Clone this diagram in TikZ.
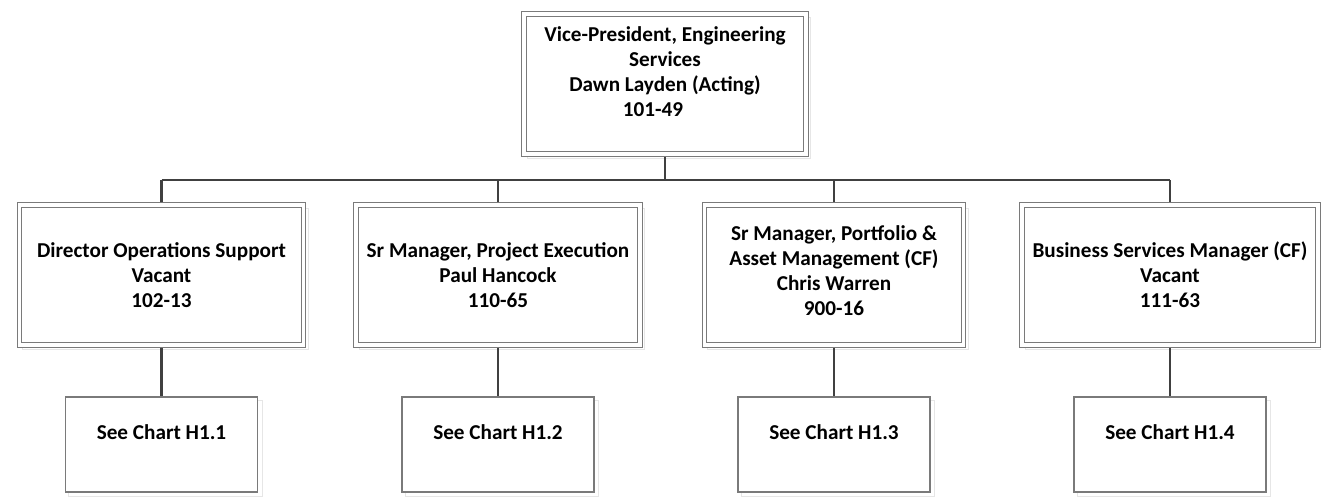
\documentclass[tikz,border=0pt]{standalone}
\usepackage{fontspec}
\setmainfont{Carlito}
\pgfdeclarelayer{bg}
\pgfsetlayers{bg,main}
\definecolor{boxline}{HTML}{7A7A7A}
\definecolor{connc}{HTML}{404040}
\definecolor{shade}{HTML}{E6E6E6}
\tikzset{
  txt/.style={font=\bfseries\fontsize{21.2}{25}\selectfont, align=center, text=black},
  mgr/.style={txt, draw=boxline, double, double distance=3.2pt, line width=1.1pt, fill=white, minimum height=140pt, inner sep=0pt},
  chartbox/.style={txt, draw=boxline, line width=1.4pt, fill=white, minimum width=192pt, minimum height=95pt, inner sep=0pt},
  link/.style={draw=connc, line width=2.4pt},
  shadowline/.style={draw=shade, line width=1pt}
}
\begin{document}
\begin{tikzpicture}[x=1pt,y=-1pt]
\useasboundingbox (0,0) rectangle (1321,498);
% top
\node[mgr, minimum width=282pt] (top) at (665,84)
  {Vice-President, Engineering\\Services\\Dawn Layden (Acting)\\101-49\rule{24pt}{0pt}\\\mbox{}};
% managers
\node[mgr, minimum width=284pt] (m1) at (161.5,275) {Director Operations Support\\Vacant\\102-13};
\node[mgr, minimum width=284pt] (m2) at (498,275) {Sr Manager, Project Execution\\Paul Hancock\\110-65};
\node[mgr, minimum width=259pt] (m3) at (834,275) {Sr Manager, Portfolio \&\\Asset Management (CF)\\Chris Warren\\900-16\\[-17pt]\mbox{}};
\node[mgr, minimum width=296pt] (m4) at (1170,275) {Business Services Manager (CF)\\Vacant\\111-63};
% charts
\node[chartbox] (c1) at (161.5,444.5) {See Chart H1.1\\\mbox{}};
\node[chartbox] (c2) at (498,444.5) {See Chart H1.2\\\mbox{}};
\node[chartbox] (c3) at (834,444.5) {See Chart H1.3\\\mbox{}};
\node[chartbox] (c4) at (1170,444.5) {See Chart H1.4\\\mbox{}};
% bus coordinates
\coordinate (b1) at (161.5,180);
\coordinate (b2) at (498,180);
\coordinate (b3) at (834,180);
\coordinate (b4) at (1170,180);
\begin{pgfonlayer}{bg}
  \foreach \n in {top,m1,m2,m3,m4,c1,c2,c3,c4}
    \draw[shadowline] ([shift={(4,4)}]\n.north west) rectangle ([shift={(4,4)}]\n.south east);
  \draw[link] (top.south) -- (top.south |- b1);
  \draw[link] (b1) -- (b4);
  \draw[link] (b1) -- (m1.north);
  \draw[link] (b2) -- (m2.north);
  \draw[link] (b3) -- (m3.north);
  \draw[link] (b4) -- (m4.north);
  \draw[link] (m1.south) -- (c1.north);
  \draw[link] (m2.south) -- (c2.north);
  \draw[link] (m3.south) -- (c3.north);
  \draw[link] (m4.south) -- (c4.north);
\end{pgfonlayer}
\end{tikzpicture}
\end{document}
